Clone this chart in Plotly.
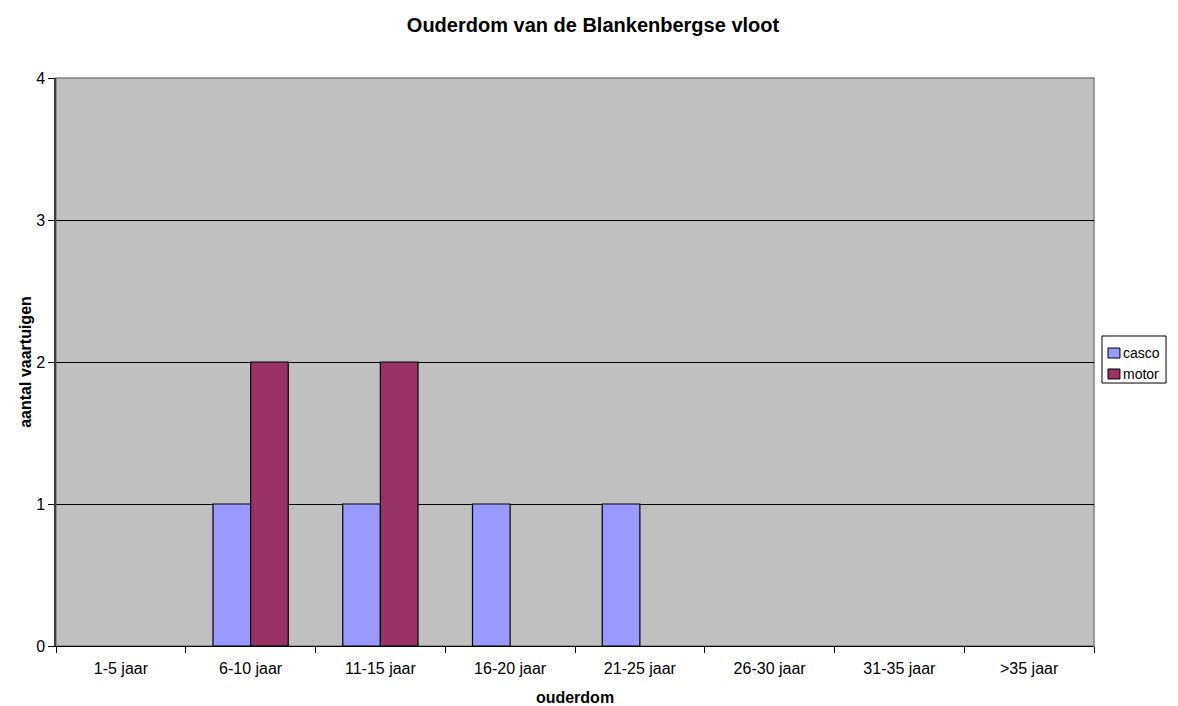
import plotly.graph_objects as go

categories = ["1-5 jaar", "6-10 jaar", "11-15 jaar", "16-20 jaar", "21-25 jaar", "26-30 jaar", "31-35 jaar", ">35 jaar"]
casco = [0, 1, 1, 1, 1, 0, 0, 0]
motor = [0, 2, 2, 0, 0, 0, 0, 0]
series_names = ["casco", "motor"]
series_colors = ["#9999FF", "#993366"]

FONT = "Liberation Sans, Arial, sans-serif"

fig = go.Figure()
for name, vals, col in zip(series_names, [casco, motor], series_colors):
    fig.add_trace(go.Bar(
        name=name, x=categories, y=vals, showlegend=False,
        marker=dict(color=col, line=dict(color="black", width=[1.2 if v else 0 for v in vals])),
    ))

fig.update_layout(
    width=1170, height=698,
    margin=dict(l=48, r=84, t=70, b=60, autoexpand=False),
    paper_bgcolor="white", plot_bgcolor="#C0C0C0",
    barmode="group", bargap=0.42, bargroupgap=0,
    font=dict(family=FONT, size=16, color="black"),
    title=dict(text="<b>Ouderdom van de Blankenbergse vloot</b>", x=0.5, xanchor="center",
               y=0.9756, yanchor="middle", font=dict(size=20)),
    showlegend=False,
    xaxis=dict(title=dict(text="<b>ouderdom</b>", font=dict(size=16), standoff=15),
               tickson="boundaries", ticks="outside", ticklen=6, tickcolor="black",
               ticklabelstandoff=8,
               showline=True, linecolor="black", linewidth=1, showgrid=False,
               tickfont=dict(size=16)),
    yaxis=dict(title=dict(text="<b>aantal vaartuigen</b>", font=dict(size=16), standoff=1),
               range=[0, 4], dtick=1, ticks="outside", ticklen=6, tickcolor="black",
               showline=True, linecolor="#404040", linewidth=1.5, showgrid=True,
               gridcolor="black", gridwidth=1, zeroline=False, tickfont=dict(size=16)),
)
# plot area outline
fig.add_shape(type="rect", xref="paper", yref="paper", x0=0, x1=1, y0=0, y1=1,
              line=dict(color="#808080", width=1.5), layer="below")

# legend box drawn beside the plot
fig.add_shape(type="rect", xref="paper", yref="paper", x0=1.0077, x1=1.0694, y0=0.463, y1=0.5458,
              line=dict(color="black", width=1), fillcolor="white")
legend_rows = [(0.5158, 0.5070, 0.5246), (0.4789, 0.4701, 0.4877)]
for name, col, (yc, y0, y1) in zip(series_names, series_colors, legend_rows):
    fig.add_shape(type="rect", xref="paper", yref="paper", x0=1.0135, x1=1.0250, y0=y0, y1=y1,
                  line=dict(color="black", width=1), fillcolor=col)
    fig.add_annotation(text=name, xref="paper", yref="paper", x=1.0262, y=yc,
                       xanchor="left", yanchor="middle", showarrow=False,
                       font=dict(size=14, family=FONT, color="black"))

fig.write_html("out.html")
